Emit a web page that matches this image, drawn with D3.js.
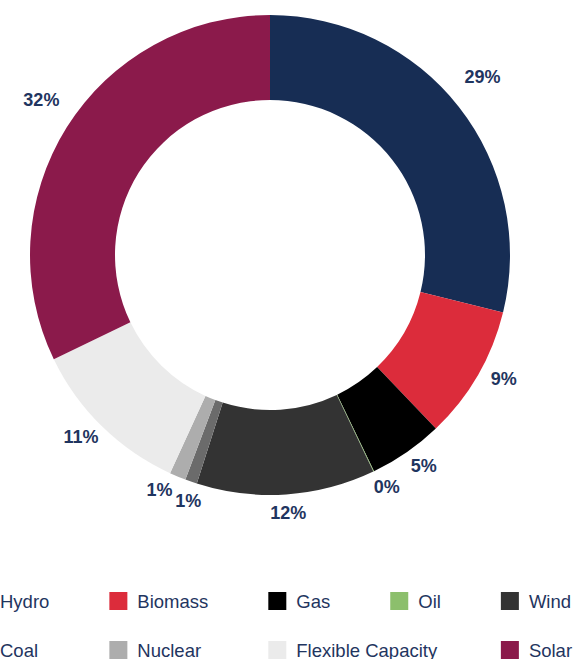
<!DOCTYPE html>
<html>
<head>
<meta charset="utf-8">
<script src="https://cdn.jsdelivr.net/npm/d3@7"></script>
<style>
  html, body { margin: 0; padding: 0; background: #ffffff; }
  svg { display: block; font-family: "Liberation Sans", Arial, Helvetica, sans-serif; }
</style>
</head>
<body>
<svg id="chart" width="583" height="659"></svg>
<script>
// Generation mix by source (share of total, %)
const categories = ["Hydro", "Biomass", "Gas", "Oil", "Wind", "Coal", "Nuclear", "Flexible Capacity", "Solar"];
const shares     = [28.8, 9.0, 5.0, 0.05, 12.0, 0.8, 1.1, 11.0, 32.1];
const colors     = ["#172d54", "#dc2c3b", "#000000", "#8cbf6c", "#333333", "#6b6b6b", "#adadad", "#ebebeb", "#8b1a4b"];
const legendRows = [
  ["Hydro", "Biomass", "Gas", "Oil", "Wind"],
  ["Coal", "Nuclear", "Flexible Capacity", "Solar"]
];

const textColor = "#1f3560";
const svg = d3.select("#chart");

const cx = 270, cy = 255;
const outerR = 240, innerR = 155, labelR = 270, labelLift = 11;

const data = categories.map((c, i) => ({ name: c, value: shares[i], color: colors[i] }));
const total = d3.sum(shares);

const pie = d3.pie().value(d => d.value).sort(null);
const arc = d3.arc().innerRadius(innerR).outerRadius(outerR);

const g = svg.append("g").attr("transform", `translate(${cx},${cy})`);
const arcs = pie(data);

g.selectAll("path.slice")
  .data(arcs)
  .join("path")
  .attr("class", "slice")
  .attr("d", arc)
  .attr("fill", d => d.data.color);

// Percentage labels around the ring
const labels = g.selectAll("text.pct")
  .data(arcs)
  .join("text")
  .attr("class", "pct")
  .attr("text-anchor", "middle")
  .attr("dominant-baseline", "central")
  .attr("font-size", 18)
  .attr("font-weight", "bold")
  .attr("fill", textColor)
  .text(d => Math.round(d.data.value / total * 100) + "%");

// Each label starts at its slice's mid-angle; neighbours that collide are nudged apart
const items = arcs.map((d, i) => ({
  angle: (d.startAngle + d.endAngle) / 2,
  w: labels.nodes()[i].getComputedTextLength(),
  h: 15
}));
const posOf = it => [labelR * Math.sin(it.angle), -labelR * Math.cos(it.angle) - labelLift];
const step = 0.003;
for (let iter = 0; iter < 400; iter++) {
  let moved = false;
  for (let i = 0; i < items.length - 1; i++) {
    const a = items[i], b = items[i + 1];
    const [ax, ay] = posOf(a), [bx, by] = posOf(b);
    const overlapX = Math.abs(ax - bx) < (a.w + b.w) / 2 + 2;
    const overlapY = Math.abs(ay - by) < (a.h + b.h) / 2;
    if (overlapX && overlapY) {
      a.angle -= step;
      b.angle += step;
      moved = true;
    }
  }
  if (!moved) break;
}
labels
  .attr("x", (d, i) => posOf(items[i])[0])
  .attr("y", (d, i) => posOf(items[i])[1]);

// Legend: first row flows left to right, second row snaps to the first row's columns
const colorOf = new Map(data.map(d => [d.name, d.color]));
const legend = svg.append("g").attr("class", "legend");
const swatch = 18, swatchGap = 10, itemGap = 60, fontSize = 18.5;
const rowBaselines = [608, 657];

function measure(txt) {
  const t = legend.append("text").attr("font-size", fontSize).text(txt);
  const w = t.node().getComputedTextLength();
  t.remove();
  return w;
}

let columnStarts = [];
legendRows.forEach((row, ri) => {
  let x = 0;          // text start of the current item
  let prevEnd = -Infinity;
  row.forEach((name, ii) => {
    if (ri === 0) {
      if (ii > 0) x = prevEnd + itemGap + swatch + swatchGap;
      columnStarts.push(x);
    } else {
      const minX = ii === 0 ? 0 : prevEnd + 40 + swatch + swatchGap;
      x = columnStarts.find(c => c >= minX);
      if (x === undefined) x = minX;
    }
    const w = measure(name);
    const item = legend.append("g");
    item.append("rect")
      .attr("x", x - swatch - swatchGap)
      .attr("y", rowBaselines[ri] - 16)
      .attr("width", swatch)
      .attr("height", swatch)
      .attr("fill", colorOf.get(name));
    item.append("text")
      .attr("x", x)
      .attr("y", rowBaselines[ri])
      .attr("font-size", fontSize)
      .attr("fill", textColor)
      .text(name);
    prevEnd = x + w;
  });
});
</script>
</body>
</html>
